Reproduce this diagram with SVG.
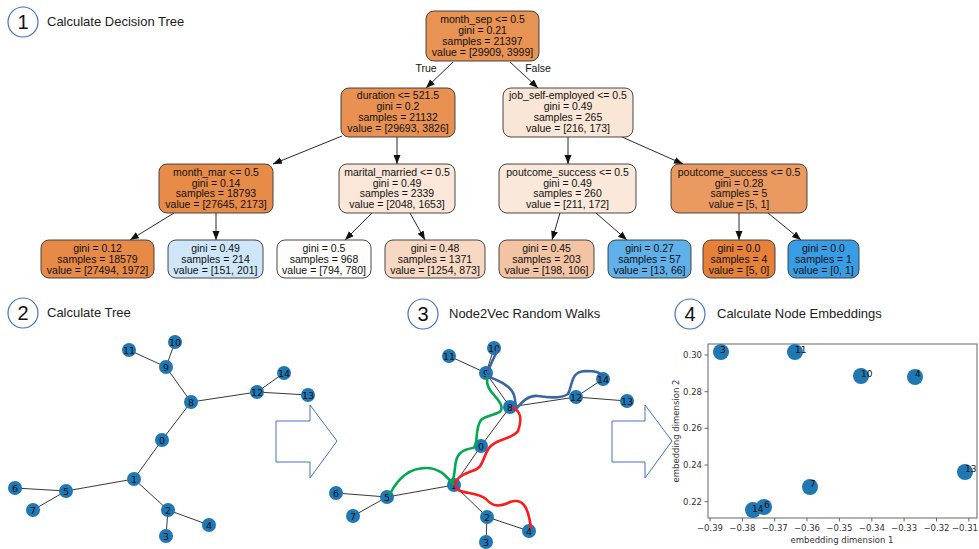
<svg xmlns="http://www.w3.org/2000/svg" width="979" height="549" viewBox="0 0 979 549">
<style>
.hdr{fill:none;stroke:#4472c4;stroke-width:1.2}
.num{font-family:"Liberation Sans",Arial,sans-serif;font-size:20px;fill:#111;text-anchor:middle}
.ttl{font-family:"Liberation Sans",Arial,sans-serif;font-size:13px;fill:#222}
.box{stroke:#333;stroke-width:0.9}
.bt{font-family:"Liberation Sans",Arial,sans-serif;font-size:10.5px;fill:#111;text-anchor:middle}
.te{stroke:#111;stroke-width:0.9;fill:none}
.ge{stroke:#222;stroke-width:0.9;fill:none}
.gn{fill:#1f77b4}
.gl{font-family:"DejaVu Sans",sans-serif;font-size:9.5px;fill:#111;text-anchor:middle}
.big{fill:#fff;stroke:#4472c4;stroke-width:1}
.walk{fill:none;stroke-width:2.6;stroke-linecap:round;stroke-linejoin:round}
.tk{font-family:"DejaVu Sans",sans-serif;font-size:8.5px;fill:#333}
.sp{fill:#1f77b4}
.sl{font-family:"DejaVu Sans",sans-serif;font-size:9px;fill:#111}
</style>
<defs>
<marker id="ah" markerUnits="userSpaceOnUse" markerWidth="10" markerHeight="8" refX="9" refY="3.5" orient="auto">
<path d="M0,0 L9,3.5 L0,7 z" fill="#111"/>
</marker>
</defs>
<rect width="979" height="549" fill="#fff"/>

<!-- Headers -->
<g id="hdr1"><circle class="hdr" cx="23" cy="22" r="15"/><text class="num" x="23" y="29">1</text><text class="ttl" x="47" y="26">Calculate Decision Tree</text></g>
<g id="hdr2"><circle class="hdr" cx="23" cy="313" r="15"/><text class="num" x="23" y="320">2</text><text class="ttl" x="47" y="317">Calculate Tree</text></g>
<g id="hdr3"><circle class="hdr" cx="423" cy="314" r="15"/><text class="num" x="423" y="321">3</text><text class="ttl" x="449" y="318">Node2Vec Random Walks</text></g>
<g id="hdr4"><circle class="hdr" cx="690" cy="314" r="15"/><text class="num" x="690" y="321">4</text><text class="ttl" x="717" y="318">Calculate Node Embeddings</text></g>

<!-- Decision tree connectors -->
<g id="tree-edges">
<line class="te" x1="453" y1="62" x2="426" y2="88" marker-end="url(#ah)"/>
<line class="te" x1="510" y1="62" x2="538" y2="88" marker-end="url(#ah)"/>
<line class="te" x1="342" y1="136" x2="273" y2="164" marker-end="url(#ah)"/>
<line class="te" x1="397" y1="137" x2="397" y2="164" marker-end="url(#ah)"/>
<line class="te" x1="568" y1="137" x2="568" y2="164" marker-end="url(#ah)"/>
<line class="te" x1="622" y1="137" x2="683" y2="164" marker-end="url(#ah)"/>
<line class="te" x1="174" y1="213" x2="130" y2="240" marker-end="url(#ah)"/>
<line class="te" x1="216" y1="213" x2="216" y2="240" marker-end="url(#ah)"/>
<line class="te" x1="372" y1="213" x2="345" y2="240" marker-end="url(#ah)"/>
<line class="te" x1="410" y1="213" x2="425" y2="240" marker-end="url(#ah)"/>
<line class="te" x1="560" y1="213" x2="552" y2="240" marker-end="url(#ah)"/>
<line class="te" x1="596" y1="213" x2="627" y2="240" marker-end="url(#ah)"/>
<line class="te" x1="739" y1="213" x2="739" y2="240" marker-end="url(#ah)"/>
<line class="te" x1="768" y1="213" x2="801" y2="240" marker-end="url(#ah)"/>
<text class="bt" x="426" y="72">True</text>
<text class="bt" x="538" y="72">False</text>
</g>

<!-- Decision tree nodes -->
<g id="dt-root"><rect class="box" x="426" y="11" width="113" height="50" rx="8" fill="#e89254"/>
<text class="bt" x="482.5" y="23">month_sep &lt;= 0.5</text><text class="bt" x="482.5" y="34">gini = 0.21</text><text class="bt" x="482.5" y="45">samples = 21397</text><text class="bt" x="482.5" y="56">value = [29909, 3999]</text></g>
<g id="dt-duration"><rect class="box" x="341" y="88" width="114" height="49" rx="8" fill="#e89152"/>
<text class="bt" x="398" y="99">duration &lt;= 521.5</text><text class="bt" x="398" y="110">gini = 0.2</text><text class="bt" x="398" y="121">samples = 21132</text><text class="bt" x="398" y="132">value = [29693, 3826]</text></g>
<g id="dt-job"><rect class="box" x="503" y="88" width="130" height="49" rx="8" fill="#fae6d7"/>
<text class="bt" x="568" y="99">job_self-employed &lt;= 0.5</text><text class="bt" x="568" y="110">gini = 0.49</text><text class="bt" x="568" y="121">samples = 265</text><text class="bt" x="568" y="132">value = [216, 173]</text></g>
<g id="dt-monthmar"><rect class="box" x="159" y="164" width="114" height="49" rx="8" fill="#e78b48"/>
<text class="bt" x="216" y="176">month_mar &lt;= 0.5</text><text class="bt" x="216" y="186.5">gini = 0.14</text><text class="bt" x="216" y="197">samples = 18793</text><text class="bt" x="216" y="208">value = [27645, 2173]</text></g>
<g id="dt-marital"><rect class="box" x="339" y="164" width="116" height="49" rx="8" fill="#fae7d9"/>
<text class="bt" x="397" y="176">marital_married &lt;= 0.5</text><text class="bt" x="397" y="186.5">gini = 0.49</text><text class="bt" x="397" y="197">samples = 2339</text><text class="bt" x="397" y="208">value = [2048, 1653]</text></g>
<g id="dt-poutL"><rect class="box" x="499" y="164" width="137" height="49" rx="8" fill="#fae8da"/>
<text class="bt" x="567.5" y="176">poutcome_success &lt;= 0.5</text><text class="bt" x="567.5" y="186.5">gini = 0.49</text><text class="bt" x="567.5" y="197">samples = 260</text><text class="bt" x="567.5" y="208">value = [211, 172]</text></g>
<g id="dt-poutR"><rect class="box" x="671" y="164" width="136" height="49" rx="8" fill="#ea9a61"/>
<text class="bt" x="739" y="176">poutcome_success &lt;= 0.5</text><text class="bt" x="739" y="186.5">gini = 0.28</text><text class="bt" x="739" y="197">samples = 5</text><text class="bt" x="739" y="208">value = [5, 1]</text></g>
<g id="dt-leaf1"><rect class="box" x="41" y="240" width="113" height="38" rx="8" fill="#e78a47"/>
<text class="bt" x="97.5" y="252">gini = 0.12</text><text class="bt" x="97.5" y="263">samples = 18579</text><text class="bt" x="97.5" y="274">value = [27494, 1972]</text></g>
<g id="dt-leaf2"><rect class="box" x="168" y="240" width="95" height="38" rx="8" fill="#cee6f8"/>
<text class="bt" x="215.5" y="252">gini = 0.49</text><text class="bt" x="215.5" y="263">samples = 214</text><text class="bt" x="215.5" y="274">value = [151, 201]</text></g>
<g id="dt-leaf3"><rect class="box" x="277" y="240" width="94" height="38" rx="8" fill="#fefdfb"/>
<text class="bt" x="324" y="252">gini = 0.5</text><text class="bt" x="324" y="263">samples = 968</text><text class="bt" x="324" y="274">value = [794, 780]</text></g>
<g id="dt-leaf4"><rect class="box" x="385" y="240" width="100" height="38" rx="8" fill="#f7d9c3"/>
<text class="bt" x="435" y="252">gini = 0.48</text><text class="bt" x="435" y="263">samples = 1371</text><text class="bt" x="435" y="274">value = [1254, 873]</text></g>
<g id="dt-leaf5"><rect class="box" x="499" y="240" width="95" height="38" rx="8" fill="#f3c4a3"/>
<text class="bt" x="546.5" y="252">gini = 0.45</text><text class="bt" x="546.5" y="263">samples = 203</text><text class="bt" x="546.5" y="274">value = [198, 106]</text></g>
<g id="dt-leaf6"><rect class="box" x="608" y="240" width="83" height="38" rx="8" fill="#60b0ea"/>
<text class="bt" x="649.5" y="252">gini = 0.27</text><text class="bt" x="649.5" y="263">samples = 57</text><text class="bt" x="649.5" y="274">value = [13, 66]</text></g>
<g id="dt-leaf7"><rect class="box" x="703" y="240" width="72" height="38" rx="8" fill="#e58139"/>
<text class="bt" x="739" y="252">gini = 0.0</text><text class="bt" x="739" y="263">samples = 4</text><text class="bt" x="739" y="274">value = [5, 0]</text></g>
<g id="dt-leaf8"><rect class="box" x="788" y="240" width="71" height="38" rx="8" fill="#399de5"/>
<text class="bt" x="823.5" y="252">gini = 0.0</text><text class="bt" x="823.5" y="263">samples = 1</text><text class="bt" x="823.5" y="274">value = [0, 1]</text></g>

<!-- Panel 2 graph -->
<g id="p2-edges">
<line class="ge" x1="175" y1="342" x2="166" y2="367"/>
<line class="ge" x1="129" y1="350" x2="166" y2="367"/>
<line class="ge" x1="166" y1="367" x2="191" y2="402"/>
<line class="ge" x1="191" y1="402" x2="257" y2="392"/>
<line class="ge" x1="257" y1="392" x2="284" y2="373"/>
<line class="ge" x1="257" y1="392" x2="308" y2="395"/>
<line class="ge" x1="191" y1="402" x2="162" y2="440"/>
<line class="ge" x1="162" y1="440" x2="134" y2="479"/>
<line class="ge" x1="134" y1="479" x2="66" y2="491"/>
<line class="ge" x1="66" y1="491" x2="15" y2="488"/>
<line class="ge" x1="66" y1="491" x2="33" y2="510"/>
<line class="ge" x1="134" y1="479" x2="168" y2="510"/>
<line class="ge" x1="168" y1="510" x2="166" y2="536"/>
<line class="ge" x1="168" y1="510" x2="209" y2="525"/>
</g>
<g id="p2-n0"><circle class="gn" cx="162" cy="440" r="7"/><text class="gl" x="162" y="443.5">0</text></g>
<g id="p2-n1"><circle class="gn" cx="134" cy="479" r="7"/><text class="gl" x="134" y="482.5">1</text></g>
<g id="p2-n2"><circle class="gn" cx="168" cy="510" r="7"/><text class="gl" x="168" y="513.5">2</text></g>
<g id="p2-n3"><circle class="gn" cx="166" cy="536" r="7"/><text class="gl" x="166" y="539.5">3</text></g>
<g id="p2-n4"><circle class="gn" cx="209" cy="525" r="7"/><text class="gl" x="209" y="528.5">4</text></g>
<g id="p2-n5"><circle class="gn" cx="66" cy="491" r="7"/><text class="gl" x="66" y="494.5">5</text></g>
<g id="p2-n6"><circle class="gn" cx="15" cy="488" r="7"/><text class="gl" x="15" y="491.5">6</text></g>
<g id="p2-n7"><circle class="gn" cx="33" cy="510" r="7"/><text class="gl" x="33" y="513.5">7</text></g>
<g id="p2-n8"><circle class="gn" cx="191" cy="402" r="7"/><text class="gl" x="191" y="405.5">8</text></g>
<g id="p2-n9"><circle class="gn" cx="166" cy="367" r="7"/><text class="gl" x="166" y="370.5">9</text></g>
<g id="p2-n10"><circle class="gn" cx="175" cy="342" r="7"/><text class="gl" x="175" y="345.5">10</text></g>
<g id="p2-n11"><circle class="gn" cx="129" cy="350" r="7"/><text class="gl" x="129" y="353.5">11</text></g>
<g id="p2-n12"><circle class="gn" cx="257" cy="392" r="7"/><text class="gl" x="257" y="395.5">12</text></g>
<g id="p2-n13"><circle class="gn" cx="308" cy="395" r="7"/><text class="gl" x="308" y="398.5">13</text></g>
<g id="p2-n14"><circle class="gn" cx="284" cy="373" r="7"/><text class="gl" x="284" y="376.5">14</text></g>

<!-- Big arrows -->
<polygon id="arrow1" class="big" points="276,421 310,421 310,405 337,441 310,478 310,462 276,462"/>
<polygon id="arrow2" class="big" points="612,421 645,421 645,405 672,441 645,478 645,462 612,462"/>

<!-- Panel 3 graph -->
<g id="p3-edges">
<line class="ge" x1="494" y1="348" x2="486" y2="373"/>
<line class="ge" x1="449" y1="356" x2="486" y2="373"/>
<line class="ge" x1="486" y1="373" x2="510" y2="407"/>
<line class="ge" x1="510" y1="407" x2="576" y2="397"/>
<line class="ge" x1="576" y1="397" x2="603" y2="379"/>
<line class="ge" x1="576" y1="397" x2="627" y2="401"/>
<line class="ge" x1="510" y1="407" x2="481" y2="446"/>
<line class="ge" x1="481" y1="446" x2="454" y2="485"/>
<line class="ge" x1="454" y1="485" x2="387" y2="497"/>
<line class="ge" x1="387" y1="497" x2="336" y2="493"/>
<line class="ge" x1="387" y1="497" x2="353" y2="516"/>
<line class="ge" x1="454" y1="485" x2="487" y2="517"/>
<line class="ge" x1="487" y1="517" x2="486" y2="542"/>
<line class="ge" x1="487" y1="517" x2="529" y2="531"/>
</g>
<g id="p3-n0"><circle class="gn" cx="481" cy="446" r="7"/><text class="gl" x="481" y="449.5">0</text></g>
<g id="p3-n1"><circle class="gn" cx="454" cy="485" r="7"/><text class="gl" x="454" y="488.5">1</text></g>
<g id="p3-n2"><circle class="gn" cx="487" cy="517" r="7"/><text class="gl" x="487" y="520.5">2</text></g>
<g id="p3-n3"><circle class="gn" cx="486" cy="542" r="7"/><text class="gl" x="486" y="545.5">3</text></g>
<g id="p3-n4"><circle class="gn" cx="529" cy="531" r="7"/><text class="gl" x="529" y="534.5">4</text></g>
<g id="p3-n5"><circle class="gn" cx="387" cy="497" r="7"/><text class="gl" x="387" y="500.5">5</text></g>
<g id="p3-n6"><circle class="gn" cx="336" cy="493" r="7"/><text class="gl" x="336" y="496.5">6</text></g>
<g id="p3-n7"><circle class="gn" cx="353" cy="516" r="7"/><text class="gl" x="353" y="519.5">7</text></g>
<g id="p3-n8"><circle class="gn" cx="510" cy="407" r="7"/><text class="gl" x="510" y="410.5">8</text></g>
<g id="p3-n9"><circle class="gn" cx="486" cy="373" r="7"/><text class="gl" x="486" y="376.5">9</text></g>
<g id="p3-n10"><circle class="gn" cx="494" cy="348" r="7"/><text class="gl" x="494" y="351.5">10</text></g>
<g id="p3-n11"><circle class="gn" cx="449" cy="356" r="7"/><text class="gl" x="449" y="359.5">11</text></g>
<g id="p3-n12"><circle class="gn" cx="576" cy="397" r="7"/><text class="gl" x="576" y="400.5">12</text></g>
<g id="p3-n13"><circle class="gn" cx="627" cy="401" r="7"/><text class="gl" x="627" y="404.5">13</text></g>
<g id="p3-n14"><circle class="gn" cx="603" cy="379" r="7"/><text class="gl" x="603" y="382.5">14</text></g>

<g id="walks">
<path class="walk" stroke="#00a94f" d="M487,378 C486,392 497,395 501,405 C505,416 488,413 481,420 C474,430 479,445 473,448 C460,450 456,455 455,468 C454,478 452,482 453,484 C446,476 440,468 426,468 C410,468 398,478 390,494"/>
<path class="walk" stroke="#ff1a1a" d="M513,408 C521,411 522,420 518,431 C512,440 496,438 489,448 C482,458 484,468 472,471 C458,476 452,482 457,489 C462,494 478,492 486,499 C493,507 500,507 510,502 C522,498 528,505 531,528"/>
<path class="walk" stroke="#3a66a8" d="M498,349 C494,358 489,366 487,376 C496,380 510,384 514,395 C516,402 515,406 517,408 C522,402 528,395 538,396 C550,398 562,398 568,394 C573,385 570,372 585,371 C596,371 601,372 603,378"/>
</g>

<!-- Panel 4 scatter plot -->
<g id="plot">
<rect x="708" y="344" width="269" height="174" fill="none" stroke="#555" stroke-width="0.9"/>
<g stroke="#444" stroke-width="0.8">
<line x1="710" y1="518" x2="710" y2="521.5"/><line x1="742.4" y1="518" x2="742.4" y2="521.5"/><line x1="774.7" y1="518" x2="774.7" y2="521.5"/><line x1="807" y1="518" x2="807" y2="521.5"/><line x1="839.4" y1="518" x2="839.4" y2="521.5"/><line x1="871.8" y1="518" x2="871.8" y2="521.5"/><line x1="904.1" y1="518" x2="904.1" y2="521.5"/><line x1="936.5" y1="518" x2="936.5" y2="521.5"/><line x1="968.8" y1="518" x2="968.8" y2="521.5"/>
<line x1="704.5" y1="355" x2="708" y2="355"/><line x1="704.5" y1="391.7" x2="708" y2="391.7"/><line x1="704.5" y1="428.3" x2="708" y2="428.3"/><line x1="704.5" y1="465" x2="708" y2="465"/><line x1="704.5" y1="501.7" x2="708" y2="501.7"/>
</g>
<g class="tk" text-anchor="middle">
<text x="710" y="531">−0.39</text><text x="742.4" y="531">−0.38</text><text x="774.7" y="531">−0.37</text><text x="807" y="531">−0.36</text><text x="839.4" y="531">−0.35</text><text x="871.8" y="531">−0.34</text><text x="904.1" y="531">−0.33</text><text x="936.5" y="531">−0.32</text>
</g>
<text class="tk" x="978" y="531" text-anchor="end">−0.31</text>
<g class="tk" text-anchor="end">
<text x="702" y="358">0.30</text><text x="702" y="394.7">0.28</text><text x="702" y="431.3">0.26</text><text x="702" y="468">0.24</text><text x="702" y="504.7">0.22</text>
</g>
<text class="tk" x="842" y="543" text-anchor="middle">embedding dimension 1</text>
<text class="tk" transform="translate(679,431) rotate(-90)" text-anchor="middle">embedding dimension 2</text>
</g>
<g id="emb-3"><circle class="sp" cx="721" cy="352" r="8"/><text class="sl" x="720" y="353">3</text></g>
<g id="emb-11"><circle class="sp" cx="795" cy="352" r="8"/><text class="sl" x="795" y="353">11</text></g>
<g id="emb-10"><circle class="sp" cx="861" cy="376" r="8"/><text class="sl" x="861" y="377">10</text></g>
<g id="emb-4"><circle class="sp" cx="915" cy="377" r="8"/><text class="sl" x="915" y="377">4</text></g>
<g id="emb-13"><circle class="sp" cx="965" cy="472" r="8"/><text class="sl" x="965" y="472">13</text></g>
<g id="emb-7"><circle class="sp" cx="810" cy="487" r="8"/><text class="sl" x="810" y="487">7</text></g>
<g id="emb-6"><circle class="sp" cx="764" cy="507" r="8"/><text class="sl" x="764" y="508">6</text></g>
<g id="emb-14"><circle class="sp" cx="753" cy="510" r="8"/><text class="sl" x="752" y="512">14</text></g>
</svg>
